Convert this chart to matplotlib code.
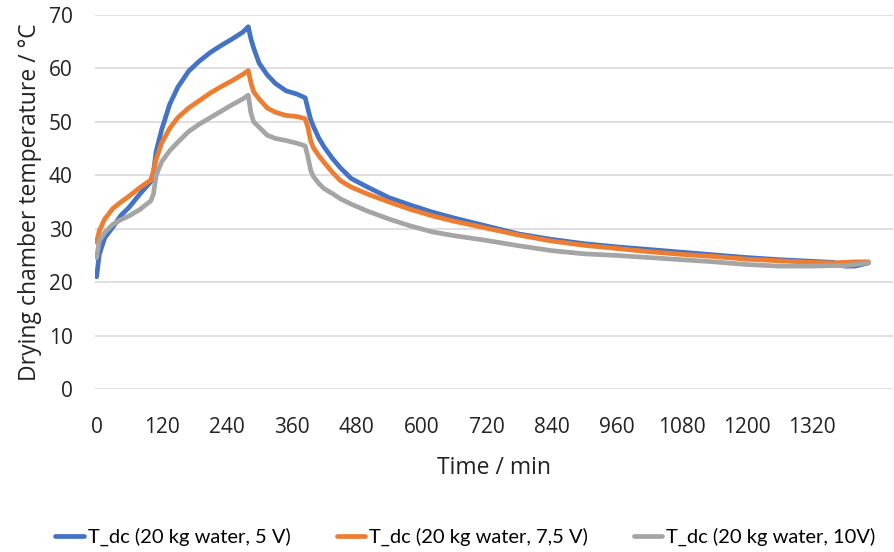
import matplotlib
matplotlib.use("Agg")
import matplotlib.pyplot as plt
from matplotlib import font_manager

# Time in minutes and drying chamber temperature in °C for three fan voltages
time_min = [0, 5, 15, 30, 45, 60, 80, 100, 105, 110, 120, 135, 150, 170, 190, 210,
            230, 250, 270, 280, 285, 290, 300, 315, 330, 350, 370, 385, 390, 395,
            400, 410, 420, 435, 450, 470, 500, 540, 580, 620, 660, 720, 780, 840,
            900, 960, 1020, 1080, 1140, 1200, 1260, 1320, 1360, 1380, 1400, 1425]

t_dc_5v = [21.0, 25.2, 28.3, 30.3, 32.5, 34.0, 36.5, 38.8, 40.5, 44.5, 48.5, 53.3,
           56.5, 59.5, 61.4, 63.0, 64.3, 65.5, 66.8, 67.8, 65.5, 63.8, 61.0, 58.8,
           57.2, 55.8, 55.2, 54.5, 52.5, 50.5, 49.2, 47.0, 45.3, 43.2, 41.4, 39.4,
           37.8, 35.8, 34.4, 33.1, 32.0, 30.5, 29.0, 28.0, 27.2, 26.6, 26.1, 25.6,
           25.1, 24.6, 24.2, 23.9, 23.7, 23.0, 23.0, 23.6]

t_dc_75v = [27.5, 29.6, 31.8, 33.8, 35.0, 36.1, 37.7, 39.1, 40.8, 43.0, 46.0, 48.8,
            50.8, 52.6, 54.0, 55.4, 56.6, 57.7, 58.9, 59.6, 57.3, 55.6, 54.3, 52.6,
            51.8, 51.2, 51.0, 50.6, 49.0, 46.5, 45.2, 43.7, 42.4, 40.6, 39.0, 37.8,
            36.5, 35.0, 33.6, 32.4, 31.4, 30.1, 28.8, 27.7, 26.9, 26.3, 25.7, 25.2,
            24.8, 24.3, 24.0, 23.7, 23.6, 23.7, 23.8, 23.8]

t_dc_10v = [24.6, 27.7, 29.3, 30.8, 31.7, 32.4, 33.6, 35.2, 36.5, 40.0, 42.5, 44.6,
            46.2, 48.2, 49.6, 50.8, 52.0, 53.2, 54.3, 55.0, 51.6, 50.0, 49.0, 47.5,
            46.9, 46.5, 46.0, 45.5, 43.5, 41.0, 39.8, 38.5, 37.5, 36.6, 35.6, 34.6,
            33.3, 31.8, 30.5, 29.4, 28.7, 27.8, 26.8, 25.9, 25.3, 25.0, 24.6, 24.2,
            23.8, 23.3, 23.0, 23.0, 23.1, 23.1, 23.3, 23.6]

series_labels = ["T_dc (20 kg water, 5 V)",
                 "T_dc (20 kg water, 7,5 V)",
                 "T_dc (20 kg water, 10V)"]
series_colors = ["#4472C4", "#ED7D31", "#A5A5A5"]

x_ticks = list(range(0, 1321, 120))
y_ticks = list(range(0, 71, 10))

installed = {f.name for f in font_manager.fontManager.ttflist}
axis_font = "Open Sans" if "Open Sans" in installed else "DejaVu Sans"
legend_font = "Liberation Sans Narrow" if "Liberation Sans Narrow" in installed else "Lato"

fig = plt.figure(figsize=(8.95, 5.52), dpi=100)
ax = fig.add_axes([0.1061, 0.2953, 0.8916, 0.6775])

for values, label, color in zip([t_dc_5v, t_dc_75v, t_dc_10v], series_labels, series_colors):
    ax.plot(time_min, values, color=color, linewidth=3.4, label=label,
            solid_joinstyle="round", solid_capstyle="round")

ax.set_xlim(-3, 1470)
ax.set_ylim(0, 70)
ax.set_xticks(x_ticks)
ax.set_yticks(y_ticks)
ax.grid(axis="y", color="#D9D9D9", linewidth=1.2)
ax.set_axisbelow(True)
for spine in ax.spines.values():
    spine.set_visible(False)
ax.tick_params(length=0, labelsize=15, colors="#000000")
ax.tick_params(axis="y", pad=16)
ax.tick_params(axis="x", pad=20)
for lbl in ax.get_xticklabels() + ax.get_yticklabels():
    lbl.set_fontfamily(axis_font)
    lbl.set_color("#222222")

ax.set_xlabel("Time / min", fontsize=16.5, family=axis_font, color="#222222", labelpad=13)
ax.set_ylabel("Drying chamber temperature / °C", fontsize=16.5, family=axis_font,
              color="#222222", labelpad=5)

leg = fig.legend(loc="center", bbox_to_anchor=(0.52, 0.027), ncol=3,
                 frameon=False, handlelength=1.4, handletextpad=0.2, columnspacing=2.3,
                 prop={"family": legend_font, "size": 14.5})
for line in leg.get_lines():
    line.set_linewidth(3.4)

fig.savefig("out.png", dpi=100)
